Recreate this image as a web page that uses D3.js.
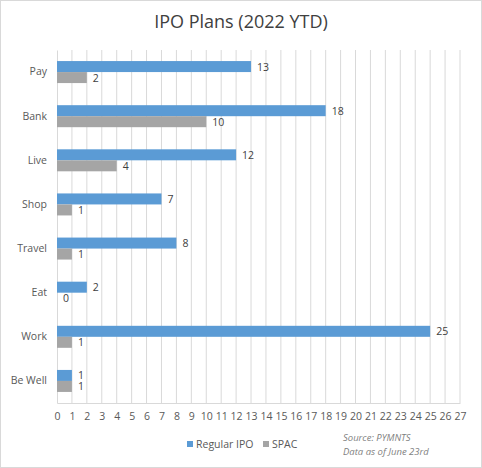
<!DOCTYPE html>
<html><head><meta charset="utf-8">
<script src="https://cdn.jsdelivr.net/npm/d3@7"></script>
<style>body{margin:0;background:#fff;font-family:"Open Sans",sans-serif;}</style>
</head><body><svg id="chart" width="482" height="468"></svg>
<script>
var categories = ['Pay', 'Bank', 'Live', 'Shop', 'Travel', 'Eat', 'Work', 'Be Well'];
var regularIpo = [13, 18, 12, 7, 8, 2, 25, 1];
var spac = [2, 10, 4, 1, 1, 0, 1, 1];
var ticks = d3.range(0, 28);

var svg = d3.select('#chart');
svg.append('rect').attr('x', 0.5).attr('y', 0.5).attr('width', 481).attr('height', 467)
    .attr('fill', '#fff').attr('stroke', '#d9d9d9');

var x = d3.scaleLinear().domain([0, 27]).range([57, 460]);
var y = d3.scaleBand().domain(categories).range([50, 403]);
var bh = 11;

svg.append('text').attr('x', 241).attr('y', 28).attr('text-anchor', 'middle')
    .attr('font-size', 18).attr('fill', '#404040').text('IPO Plans (2022 YTD)');

// gridlines
svg.selectAll('.grid').data(ticks.slice(1)).enter().append('line')
    .attr('x1', function (d) { return x(d); }).attr('x2', function (d) { return x(d); })
    .attr('y1', 50).attr('y2', 403).attr('stroke', '#d9d9d9');

var xAxis = svg.append('g').attr('transform', 'translate(0,403)')
    .call(d3.axisBottom(x).tickValues(ticks).tickSize(0).tickPadding(10));
xAxis.select('.domain').attr('stroke', '#d9d9d9');
xAxis.selectAll('text').attr('font-size', 10.5).attr('fill', '#595959').attr('font-family', '"Open Sans",sans-serif');

var yAxis = svg.append('g').attr('transform', 'translate(57,0)')
    .call(d3.axisLeft(y).tickSize(0).tickPadding(10));
yAxis.select('.domain').attr('stroke', '#d9d9d9');
yAxis.selectAll('text').attr('font-size', 10.5).attr('fill', '#595959').attr('font-family', '"Open Sans",sans-serif');

function mid(c) { return y(c) + y.bandwidth() / 2; }

svg.selectAll('.reg').data(categories).enter().append('rect')
    .attr('x', x(0)).attr('y', function (c) { return mid(c) - bh; })
    .attr('width', function (c, i) { return x(regularIpo[i]) - x(0); })
    .attr('height', bh).attr('fill', '#5b9bd5');
svg.selectAll('.spac').data(categories).enter().append('rect')
    .attr('x', x(0)).attr('y', function (c) { return mid(c); })
    .attr('width', function (c, i) { return x(spac[i]) - x(0); })
    .attr('height', bh).attr('fill', '#a5a5a5');

svg.selectAll('.regl').data(categories).enter().append('text')
    .attr('x', function (c, i) { return x(regularIpo[i]) + 6; })
    .attr('y', function (c) { return mid(c) - bh / 2 + 4; })
    .attr('font-size', 10.5).attr('fill', '#404040')
    .text(function (c, i) { return regularIpo[i]; });
svg.selectAll('.spacl').data(categories).enter().append('text')
    .attr('x', function (c, i) { return x(spac[i]) + 6; })
    .attr('y', function (c) { return mid(c) + bh / 2 + 4; })
    .attr('font-size', 10.5).attr('fill', '#404040')
    .text(function (c, i) { return spac[i]; });

// legend
var legend = [['Regular IPO', '#5b9bd5', 187], ['SPAC', '#a5a5a5', 263]];
legend.forEach(function (l) {
    svg.append('rect').attr('x', l[2]).attr('y', 441).attr('width', 6).attr('height', 6).attr('fill', l[1]);
    svg.append('text').attr('x', l[2] + 9).attr('y', 448).attr('font-size', 10.5)
        .attr('fill', '#595959').text(l[0]);
});
svg.append('text').attr('x', 343).attr('y', 441).attr('font-size', 9.5).attr('font-style', 'italic')
    .attr('fill', '#7f7f7f').text('Source: PYMNTS');
svg.append('text').attr('x', 343).attr('y', 455).attr('font-size', 9.5).attr('font-style', 'italic')
    .attr('fill', '#7f7f7f').text('Data as of June 23rd');
</script></body></html>
